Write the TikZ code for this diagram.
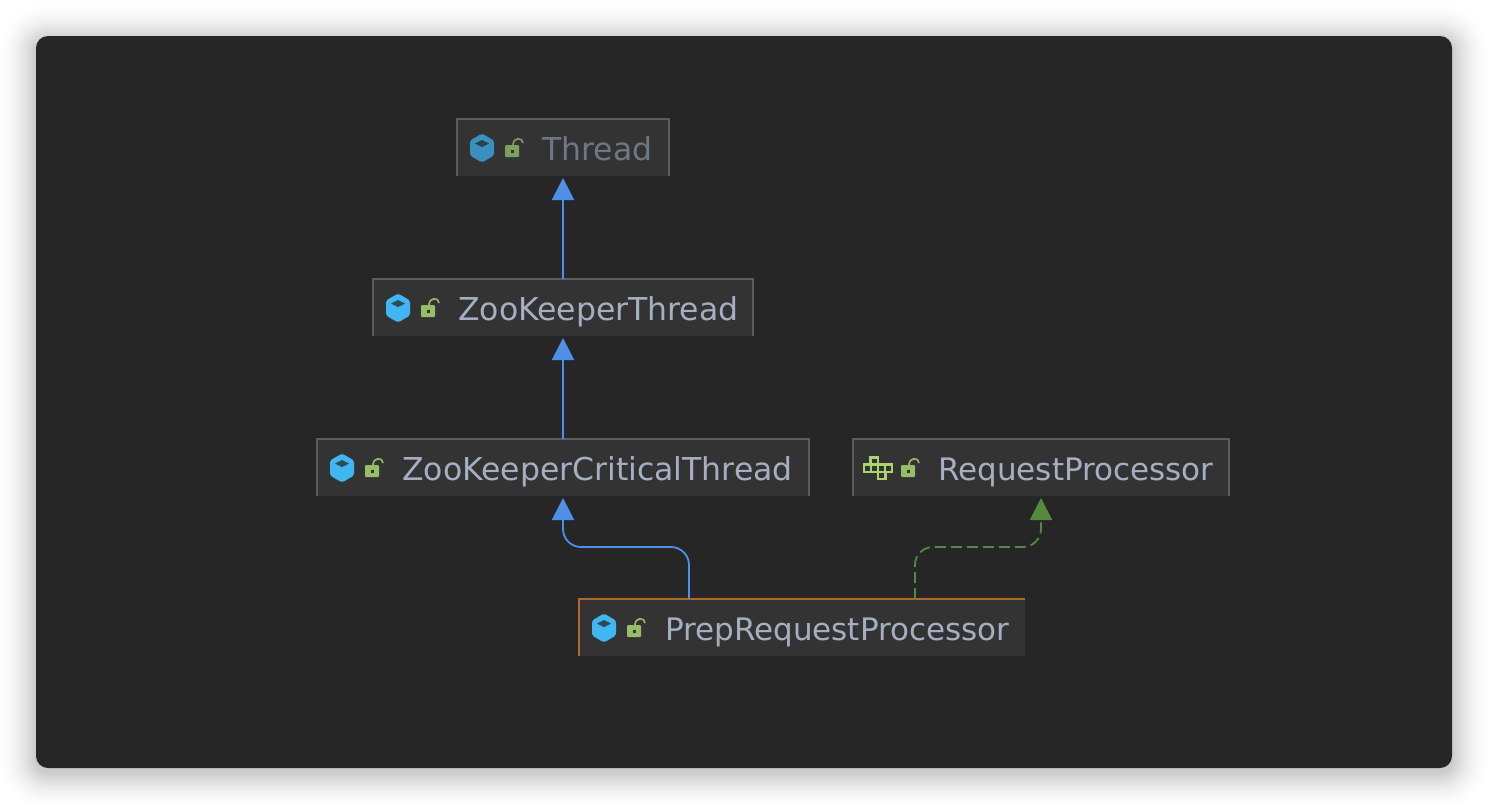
\documentclass[tikz,border=0pt]{standalone}
\usepackage{fontspec}
\setmainfont{DejaVu Sans}
\usetikzlibrary{arrows.meta}
\definecolor{canvas}{HTML}{262626}
\definecolor{boxfill}{HTML}{333333}
\definecolor{edgegray}{HTML}{5C5C5C}
\definecolor{labelc}{HTML}{A4B0C2}
\definecolor{labeldim}{HTML}{6E7885}
\definecolor{classblue}{HTML}{40B6F2}
\definecolor{classdim}{HTML}{3A90BE}
\definecolor{lockgreen}{HTML}{97BD68}
\definecolor{lockdim}{HTML}{7FA05A}
\definecolor{ifacegreen}{HTML}{A9D46F}
\definecolor{extblue}{HTML}{4E8FEA}
\definecolor{implgreen}{HTML}{548A3C}
\definecolor{orangeedge}{HTML}{B0692C}
\tikzset{
  x=1pt,y=-1pt,
  umlbox/.style={fill=boxfill,draw=none,minimum height=57pt,inner sep=0pt,outer sep=0pt},
  umllabel/.style={anchor=base west,inner sep=0pt,font=\fontsize{31.5}{31.5}\selectfont,text=labelc},
  umllabelnarrow/.style={umllabel,font=\fontsize{31}{31}\selectfont},
  extends/.style={extblue,line width=1.8pt,shorten >=2pt,-{Triangle[length=22pt,width=22pt]},rounded corners=18pt},
  implements/.style={implgreen,line width=1.8pt,shorten >=2pt,dash pattern=on 11pt off 5pt,-{Triangle[length=22pt,width=22pt,sep=0pt]},rounded corners=18pt}
}
\newcommand{\classicon}[3]{%
  \fill[#3,rounded corners=2.5pt] (#1,#2-14.5) -- (#1+12,#2-7.5) -- (#1+12,#2+7.5) -- (#1,#2+14.5) -- (#1-12,#2+7.5) -- (#1-12,#2-7.5) -- cycle;
  \fill[canvas!75!#3] (#1,#2-8) -- (#1+7,#2-4.5) -- (#1,#2-1) -- (#1-7,#2-4.5) -- cycle;
}
\newcommand{\lockicon}[3]{%
  \fill[#3,rounded corners=1pt] (#1-7,#2-3) rectangle (#1+7,#2+9);
  \fill[boxfill] (#1-1.5,#2+1.5) rectangle (#1+1.5,#2+4.5);
  \draw[#3,line width=1.6pt] (#1+1,#2-3) .. controls (#1+1,#2-11) and (#1+11,#2-11) .. (#1+11,#2-5);
}
\newcommand{\ifaceicon}[2]{%
  \begin{scope}[ifacegreen,line width=2.2pt]
    \draw (#1-7.5,#2-10.5) rectangle (#1,#2-3.5);
    \draw (#1-14,#2-3.5) rectangle (#1+14,#2+4);
    \draw (#1-7,#2-3.5) -- (#1-7,#2+4) (#1,#2-3.5) -- (#1,#2+4) (#1+7,#2-3.5) -- (#1+7,#2+4);
    \draw (#1,#2+4) rectangle (#1+7.5,#2+11);
  \end{scope}
}
\begin{document}
\begin{tikzpicture}
\useasboundingbox (0,0) rectangle (1488,804);
\fill[white] (0,0) rectangle (1488,804);
\foreach \g in {36,34,...,2}{
  \pgfmathsetmacro{\al}{0.02*(1-\g/40)}
  \fill[black,opacity=\al,rounded corners=12pt+\g*1pt]
    (36-\g,36-\g+4) rectangle (1452+\g,768+\g+4);
}
\fill[canvas,rounded corners=12pt] (36,36) rectangle (1452,768);

\node[umlbox,minimum width=212pt] (thread) at (563,147.5) {};
\node[umlbox,minimum width=380pt] (zkthread) at (563,307.5) {};
\node[umlbox,minimum width=492pt] (crit) at (563,467.5) {};
\node[umlbox,minimum width=376pt] (reqproc) at (1041,467.5) {};
\node[umlbox,minimum width=446pt] (prep) at (802,627.5) {};

\foreach \n in {thread,zkthread,crit,reqproc}{
  \draw[edgegray,line width=1.5pt] (\n.south west) -- (\n.north west) -- (\n.north east) -- (\n.south east);
}
\draw[orangeedge,line width=1.7pt] (prep.south west) -- (prep.north west) -- (prep.north east);

\node[umllabel,text=labeldim] (threadlabel) at (542,160) {Thread};
\node[umllabel] (zkthreadlabel) at (458,320) {ZooKeeperThread};
\node[umllabel] (critlabel) at (402,480) {ZooKeeperCriticalThread};
\node[umllabelnarrow] (reqproclabel) at (938,480) {RequestProcessor};
\node[umllabelnarrow] (preplabel) at (665,640) {PrepRequestProcessor};

\classicon{482}{148}{classdim}\lockicon{512}{148}{lockdim}
\classicon{398}{308}{classblue}\lockicon{428}{308}{lockgreen}
\classicon{342}{468}{classblue}\lockicon{372}{468}{lockgreen}
\ifaceicon{878}{468}\lockicon{908}{468}{lockgreen}
\classicon{604}{628}{classblue}\lockicon{634}{628}{lockgreen}

\draw[extends] (zkthread.north) -- (thread.south);
\draw[extends] (crit.north) -- (zkthread.south);
\draw[extends] ([xshift=-113pt]prep.north) |- ([yshift=-51pt]crit.south) -- (crit.south);
\draw[implements] ([xshift=113pt]prep.north) |- ([yshift=-51pt]reqproc.south) -- (reqproc.south);
\end{tikzpicture}
\end{document}
